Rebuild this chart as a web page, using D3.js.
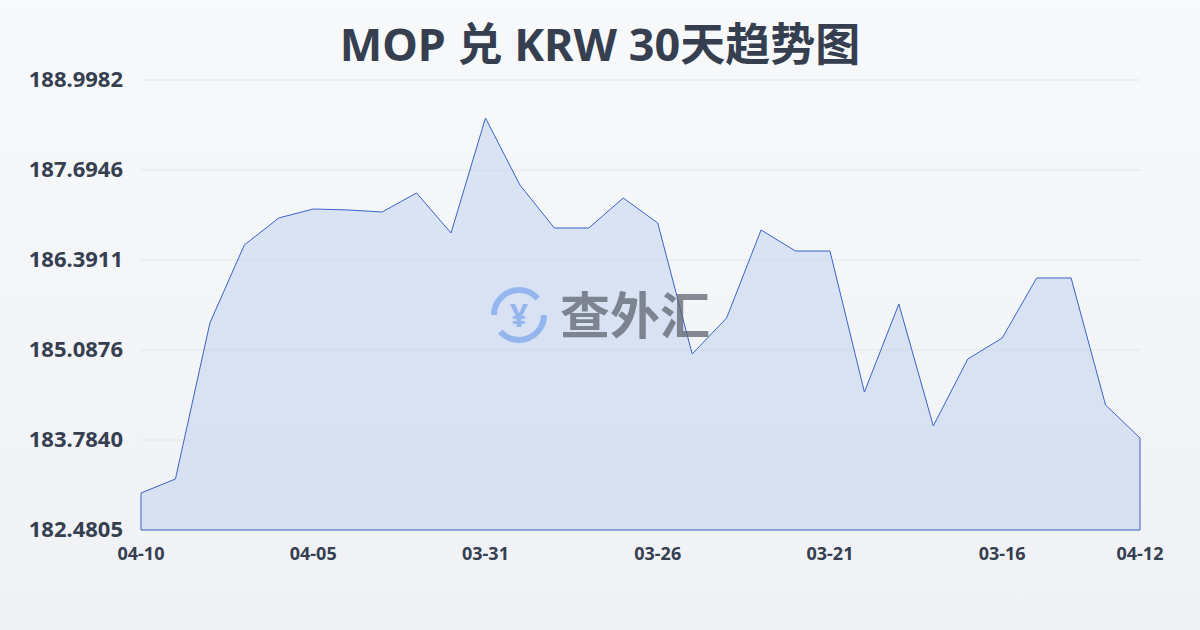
<!DOCTYPE html>
<html><head><meta charset="utf-8">
<script src="https://cdn.jsdelivr.net/npm/d3@7"></script>
<style>
body{margin:0;background:linear-gradient(#f8f9fb,#eff1f4);width:1200px;height:630px;overflow:hidden;font-family:"Noto Sans","Noto Sans CJK SC",sans-serif}
</style></head><body>
<script>
// 数据（按日倒序）
const dayIndex = d3.range(30)
const rates = [183.016,183.219,185.479,186.609,187.000,187.130,187.116,187.087,187.362,186.782,
  188.448,187.477,186.855,186.855,187.289,186.927,185.030,185.551,186.826,186.521,
  186.521,184.479,185.754,183.987,184.957,185.261,186.131,186.131,184.291,183.813]
const yTicks = [182.4805,183.7840,185.0876,186.3911,187.6946,188.9982]
const xTickIdx = [0,5,10,15,20,25,29]
const xTickLabels = ["04-10","04-05","03-31","03-26","03-21","03-16","04-12"]

const svg = d3.select("body").append("svg").attr("width",1200).attr("height",630)

let x = d3.scaleLinear().domain([0,29]).range([141,1140])
let y = d3.scaleLinear().domain([182.4805,188.9982]).range([530,80])

svg.append("text").attr("x",600).attr("y",61).attr("text-anchor","middle")
  .attr("font-size",45).attr("font-weight","bold").attr("fill","#353f50")
  .text("MOP 兑 KRW 30天趋势图")

// 网格线
svg.append("g").selectAll("line").data(yTicks).join("line")
  .attr("x1",141).attr("x2",1140).attr("y1",d=>y(d)).attr("y2",d=>y(d))
  .style("stroke","#e3e6ea")

svg.append("g").selectAll("text").data(yTicks).join("text")
  .attr("x",123).attr("y",d=>y(d)+7).attr("text-anchor","end")
  .attr("font-size",22).attr("font-weight","bold").attr("fill","#353f50")
  .text(d=>d.toFixed(4))

let area = d3.area().x((d,i)=>x(i)).y0(530).y1(d=>y(d))
svg.append("path").datum(rates).attr("d",area).attr("fill","rgba(190,208,240,0.5)")
svg.append("path").datum(rates)
  .attr("d",d3.line().x((d,i)=>x(i)).y(d=>y(d)))
  .attr("fill","none").style("stroke","#3a63c8").style("stroke-width",1)
svg.append("line").attr("x1",141).attr("x2",141).attr("y1",y(rates[0])).attr("y2",530).style("stroke","#3a63c8")
svg.append("line").attr("x1",1140).attr("x2",1140).attr("y1",y(rates[29])).attr("y2",530).style("stroke","#3a63c8")
svg.append("line").attr("x1",141).attr("x2",1140).attr("y1",530).attr("y2",530).style("stroke","#3a63c8")

svg.append("g").selectAll("text").data(xTickIdx).join("text")
  .attr("x",d=>x(d)).attr("y",560).attr("text-anchor","middle")
  .attr("font-size",18).attr("font-weight","bold").attr("fill","#353f50")
  .text((d,i)=>xTickLabels[i])

// 水印
let wm = svg.append("g").attr("opacity",0.75)
wm.append("circle").attr("cx",519).attr("cy",315).attr("r",25)
  .attr("fill","none").style("stroke","#7fa7ee").style("stroke-width",6)
  .style("stroke-dasharray","60 18")
wm.append("text").attr("x",519).attr("y",327).attr("text-anchor","middle")
  .attr("font-size",32).attr("font-weight","bold").attr("fill","#7fa7ee").text("¥")
wm.append("text").attr("x",560).attr("y",334).attr("font-size",50)
  .attr("font-weight","bold").attr("fill","#5f6570").text("查外汇")
</script>
</body></html>
